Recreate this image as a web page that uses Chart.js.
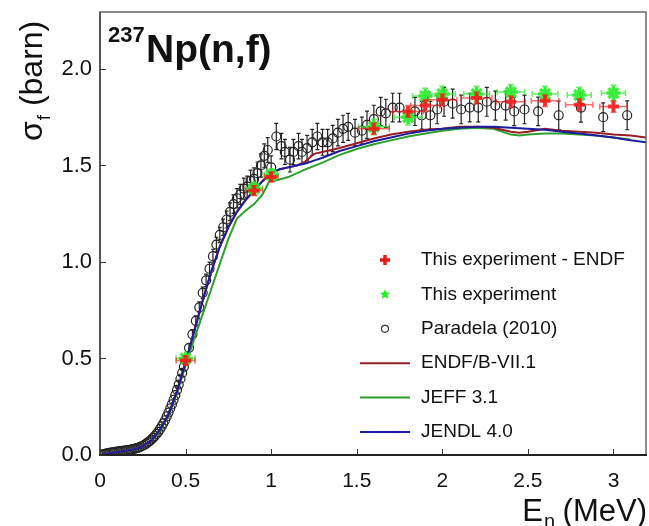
<!DOCTYPE html>
<html>
<head>
<meta charset="utf-8">
<script src="https://cdn.jsdelivr.net/npm/chart.js@4"></script>
<style>
  html, body { margin: 0; padding: 0; background: #fff; }
  #caja { width: 649px; height: 526px; }
</style>
</head>
<body>
<div id="caja"><canvas id="grafica" width="649" height="526"></canvas></div>
<script>
const FUENTE = "'Liberation Sans', Arial, Helvetica, sans-serif";

// Paradela (2010)
const paradelaE = [0.00,0.01,0.02,0.03,0.04,0.05,0.06,0.07,0.08,0.09,0.10,0.11,0.12,0.13,0.14,0.15,0.16,0.17,0.18,0.19,0.20,
  0.21,0.22,0.23,0.24,0.25,0.26,0.27,0.28,0.29,0.30,0.31,0.32,0.33,0.34,0.35,0.36,0.37,0.38,0.39,0.40,
  0.41,0.42,0.43,0.44,0.45,0.46,0.47,0.48,0.49,0.50,
  0.52,0.54,0.56,0.58,0.60,0.62,0.64,0.66,0.68,0.70,0.72,0.74,0.76,0.78,0.80,
  0.82,0.84,0.86,0.88,0.90,0.92,0.94,0.96,0.98,1.00,
  1.03,1.06,1.08,1.11,1.13,1.16,1.18,1.21,1.24,1.27,1.30,1.33,1.36,1.39,1.42,1.45,1.49,1.53,1.56,1.60,1.64,1.67,1.71,1.75,
  1.84,1.88,1.93,1.97,2.01,2.06,2.11,2.16,2.21,2.26,2.31,2.37,2.42,2.48,2.56,2.68,2.81,2.94,3.08];
const paradelaSigma = [0.000,0.002,0.004,0.006,0.008,0.010,0.012,0.013,0.015,0.016,0.018,0.019,0.020,0.021,0.022,0.024,0.025,0.026,0.028,0.030,0.032,
  0.034,0.037,0.040,0.044,0.048,0.053,0.059,0.065,0.072,0.080,0.089,0.098,0.109,0.120,0.134,0.148,0.164,0.180,0.200,0.220,
  0.241,0.262,0.286,0.310,0.337,0.365,0.395,0.425,0.457,0.490,
  0.555,0.625,0.695,0.765,0.840,0.905,0.965,1.030,1.090,1.140,1.180,1.220,1.260,1.300,1.330,
  1.350,1.380,1.390,1.420,1.430,1.460,1.500,1.550,1.580,1.490,
  1.65,1.60,1.57,1.53,1.57,1.60,1.57,1.59,1.62,1.65,1.62,1.62,1.64,1.67,1.69,1.70,1.67,1.68,1.71,1.74,1.78,1.77,1.80,1.80,
  1.78,1.76,1.76,1.79,1.83,1.82,1.79,1.80,1.80,1.83,1.81,1.81,1.78,1.79,1.78,1.76,1.80,1.75,1.76];
const paradelaErr = [0.002,0.002,0.002,0.002,0.002,0.002,0.002,0.002,0.002,0.002,0.002,0.002,0.002,0.002,0.002,0.002,0.002,0.002,0.002,0.002,0.002,
  0.003,0.003,0.003,0.004,0.004,0.004,0.005,0.005,0.005,0.005,
  0.006,0.006,0.007,0.007,0.008,0.008,0.009,0.009,0.010,0.011,
  0.012,0.013,0.014,0.015,0.016,0.017,0.018,0.019,0.020,0.021,
  0.022,0.024,0.026,0.028,0.030,0.032,0.034,0.036,0.038,0.040,0.042,0.044,0.046,0.048,0.050,
  0.052,0.054,0.055,0.056,0.057,0.058,0.060,0.062,0.064,0.060,
  0.068,0.066,0.065,0.064,0.065,0.066,0.065,0.066,0.067,0.068,0.067,0.067,0.068,0.069,0.070,0.070,0.069,0.070,0.071,0.072,0.073,0.073,0.074,0.074,
  0.073,0.072,0.072,0.074,0.075,0.075,0.074,0.074,0.074,0.075,0.075,0.075,0.074,0.074,0.074,0.074,0.075,0.074,0.075];

// This experiment
const expE = [0.5, 0.9, 1.0, 1.6, 1.8, 1.9, 2.0, 2.2, 2.4, 2.6, 2.8, 3.0];
const expSigma = [0.50, 1.38, 1.45, 1.70, 1.75, 1.86, 1.87, 1.87, 1.88, 1.87, 1.865, 1.875];
const expErrE = [0.055, 0.05, 0.04, 0.09, 0.08, 0.075, 0.075, 0.075, 0.08, 0.075, 0.07, 0.07];
const expErrSigma = [0.02, 0.03, 0.03, 0.04, 0.04, 0.04, 0.04, 0.04, 0.04, 0.04, 0.04, 0.04];

// This experiment - ENDF
const difE = [0.5, 0.9, 1.0, 1.6, 1.8, 1.9, 2.0, 2.2, 2.4, 2.6, 2.8, 3.0];
const difSigma = [0.49, 1.37, 1.44, 1.69, 1.78, 1.81, 1.84, 1.85, 1.83, 1.835, 1.815, 1.805];
const difErrE = [0.055, 0.05, 0.04, 0.09, 0.09, 0.085, 0.085, 0.09, 0.085, 0.08, 0.08, 0.08];
const difErrSigma = [0.02, 0.025, 0.025, 0.03, 0.03, 0.03, 0.03, 0.03, 0.03, 0.03, 0.03, 0.03];

// Evaluaciones
const endfE = [0,0.1,0.2,0.25,0.3,0.35,0.4,0.45,0.5,0.55,0.6,0.65,0.7,0.75,0.8,0.85,0.9,0.95,1.0,1.05,1.1,1.15,1.2,1.25,1.3,
  1.4,1.5,1.6,1.7,1.8,1.9,2.0,2.1,2.2,2.3,2.4,2.45,2.5,2.6,2.7,2.8,2.9,3.0,3.1,3.19];
const endfSigma = [0,0.015,0.03,0.045,0.075,0.13,0.21,0.33,0.48,0.64,0.80,0.95,1.08,1.18,1.26,1.32,1.37,1.42,1.46,1.48,1.49,1.50,1.52,1.56,1.57,
  1.59,1.615,1.64,1.66,1.675,1.685,1.69,1.70,1.70,1.695,1.675,1.67,1.675,1.69,1.68,1.675,1.67,1.66,1.655,1.645];

const jeffE = [0,0.1,0.2,0.25,0.3,0.35,0.4,0.45,0.5,0.55,0.6,0.65,0.7,0.75,0.8,0.85,0.9,0.95,0.99,1.0,1.02,1.1,1.2,1.3,
  1.4,1.5,1.6,1.7,1.8,1.9,2.0,2.1,2.2,2.3,2.35,2.4,2.45,2.5,2.6,2.7,2.8,2.9,3.0,3.1];
const jeffSigma = [0,0.015,0.03,0.045,0.075,0.125,0.20,0.32,0.465,0.60,0.73,0.86,0.99,1.12,1.225,1.265,1.30,1.35,1.42,1.46,1.42,1.44,1.48,1.515,
  1.555,1.585,1.61,1.63,1.65,1.665,1.68,1.69,1.695,1.69,1.675,1.66,1.655,1.66,1.665,1.665,1.66,1.655,1.645,1.635];

const jendlE = [0,0.1,0.2,0.25,0.3,0.35,0.4,0.45,0.5,0.55,0.6,0.65,0.7,0.75,0.8,0.85,0.9,0.95,1.0,1.05,1.1,1.2,1.25,1.3,
  1.4,1.5,1.6,1.7,1.8,1.9,2.0,2.1,2.2,2.3,2.4,2.5,2.6,2.7,2.8,2.9,3.0,3.1,3.19];
const jendlSigma = [0,0.015,0.03,0.045,0.075,0.13,0.21,0.33,0.48,0.64,0.80,0.95,1.08,1.18,1.26,1.32,1.37,1.42,1.46,1.48,1.49,1.51,1.525,1.54,
  1.575,1.60,1.625,1.645,1.665,1.68,1.69,1.695,1.70,1.70,1.695,1.69,1.685,1.675,1.665,1.655,1.645,1.63,1.62];

// Ejes
const xTicks = [0, 0.5, 1, 1.5, 2, 2.5, 3];
const xTickLabels = ["0", "0.5", "1", "1.5", "2", "2.5", "3"];
const yTicks = [0, 0.5, 1, 1.5, 2];
const yTickLabels = ["0.0", "0.5", "1.0", "1.5", "2.0"];

const ROJO = "rgba(245,25,25,0.85)";
const VERDE = "rgba(45,235,45,0.9)";
const C_ENDF = "#9a1c24";
const C_JEFF = "#2ca02c";
const C_JENDL = "#1c1c9e";

function puntos(xs, ys) {
  return xs.map((x, i) => ({ x: x, y: ys[i] }));
}

// barras de error dibujadas bajo los marcadores de cada serie
const barrasError = {
  id: "barrasError",
  beforeDatasetDraw(chart, args) {
    const ds = chart.data.datasets[args.index];
    if (!ds.errY && !ds.errX) return;
    const ctx = chart.ctx;
    const sx = chart.scales.x, sy = chart.scales.y;
    ctx.save();
    ctx.strokeStyle = ds.errColor;
    ctx.lineWidth = ds.errWidth;
    const cap = ds.errCap;
    ds.data.forEach((p, i) => {
      const px = sx.getPixelForValue(p.x), py = sy.getPixelForValue(p.y);
      ctx.beginPath();
      if (ds.errY) {
        const t = sy.getPixelForValue(p.y + ds.errY[i]);
        const b = sy.getPixelForValue(p.y - ds.errY[i]);
        ctx.moveTo(px, t); ctx.lineTo(px, b);
        if (b - t > 6) {
          ctx.moveTo(px - cap, t); ctx.lineTo(px + cap, t);
          ctx.moveTo(px - cap, b); ctx.lineTo(px + cap, b);
        }
      }
      if (ds.errX) {
        const l = sx.getPixelForValue(p.x - ds.errX[i]);
        const r = sx.getPixelForValue(p.x + ds.errX[i]);
        ctx.moveTo(l, py); ctx.lineTo(r, py);
        ctx.moveTo(l, py - cap); ctx.lineTo(l, py + cap);
        ctx.moveTo(r, py - cap); ctx.lineTo(r, py + cap);
      }
      ctx.stroke();
    });
    ctx.restore();
  }
};

function estrella(ctx, cx, cy, r) {
  ctx.beginPath();
  for (let k = 0; k < 10; k++) {
    const ang = -Math.PI / 2 + k * Math.PI / 5;
    const rr = k % 2 === 0 ? r : r * 0.45;
    const x = cx + rr * Math.cos(ang), y = cy + rr * Math.sin(ang);
    if (k === 0) ctx.moveTo(x, y); else ctx.lineTo(x, y);
  }
  ctx.closePath();
  ctx.fill();
}

// marco, marcas, títulos y leyenda
const decorado = {
  id: "decorado",
  afterDraw(chart) {
    const ctx = chart.ctx;
    const a = chart.chartArea;
    const sx = chart.scales.x, sy = chart.scales.y;
    ctx.save();

    // marco
    ctx.strokeStyle = "#666";
    ctx.lineWidth = 1.5;
    ctx.strokeRect(a.left, a.top, a.right - a.left, a.bottom - a.top);
    ctx.strokeStyle = "#222";
    ctx.lineWidth = 2;
    ctx.beginPath();
    ctx.moveTo(a.left - 1, a.bottom); ctx.lineTo(a.right + 1, a.bottom);
    ctx.stroke();
    ctx.strokeStyle = "#444";
    ctx.lineWidth = 1.5;
    ctx.beginPath();
    ctx.moveTo(a.left, a.top); ctx.lineTo(a.left, a.bottom);
    ctx.stroke();

    // marcas hacia dentro
    ctx.strokeStyle = "#333";
    ctx.lineWidth = 1;
    ctx.beginPath();
    xTicks.forEach(v => {
      const px = Math.round(sx.getPixelForValue(v)) + 0.5;
      ctx.moveTo(px, a.bottom); ctx.lineTo(px, a.bottom - 6);
    });
    yTicks.forEach(v => {
      const py = Math.round(sy.getPixelForValue(v)) + 0.5;
      ctx.moveTo(a.left, py); ctx.lineTo(a.left + 6, py);
    });
    ctx.stroke();

    ctx.fillStyle = "#111";
    ctx.textBaseline = "alphabetic";
    ctx.textAlign = "left";

    // título
    ctx.font = "bold 22px " + FUENTE;
    ctx.fillText("237", 108, 42);
    ctx.font = "bold 39px " + FUENTE;
    ctx.fillText("Np(n,f)", 146, 62);

    // eje x
    ctx.font = "31px " + FUENTE;
    const wE = ctx.measureText("E").width;
    const wM = ctx.measureText(" (MeV)").width;
    ctx.font = "20px " + FUENTE;
    const wn = ctx.measureText("n").width;
    let x0 = 647 - (wE + wn + wM);
    ctx.font = "31px " + FUENTE;
    ctx.fillText("E", x0, 521);
    ctx.font = "20px " + FUENTE;
    ctx.fillText("n", x0 + wE + 1, 528);
    ctx.font = "31px " + FUENTE;
    ctx.fillText(" (MeV)", x0 + wE + wn, 521);

    // eje y
    ctx.save();
    ctx.translate(42, 141);
    ctx.rotate(-Math.PI / 2);
    ctx.font = "32px " + FUENTE;
    ctx.fillText("σ", 0, 0);
    const ws = ctx.measureText("σ").width;
    ctx.font = "19px " + FUENTE;
    ctx.fillText("f", ws + 1, 8);
    const wf = ctx.measureText("f").width;
    ctx.font = "32px " + FUENTE;
    ctx.fillText(" (barn)", ws + wf + 1, 0);
    ctx.restore();

    // leyenda
    const items = [
      { tipo: "cruz", color: ROJO, texto: "This experiment - ENDF" },
      { tipo: "estrella", color: VERDE, texto: "This experiment" },
      { tipo: "circulo", color: "#333", texto: "Paradela (2010)" },
      { tipo: "linea", color: C_ENDF, texto: "ENDF/B-VII.1" },
      { tipo: "linea", color: C_JEFF, texto: "JEFF 3.1" },
      { tipo: "linea", color: C_JENDL, texto: "JENDL 4.0" }
    ];
    ctx.font = "19px " + FUENTE;
    ctx.textBaseline = "middle";
    items.forEach((it, i) => {
      const y = 260 + i * 34.4;
      const mx = 385;
      if (it.tipo === "cruz") {
        ctx.strokeStyle = "#f01818";
        ctx.lineWidth = 3.5;
        ctx.beginPath();
        ctx.moveTo(mx - 5, y); ctx.lineTo(mx + 5, y);
        ctx.moveTo(mx, y - 5); ctx.lineTo(mx, y + 5);
        ctx.stroke();
      } else if (it.tipo === "estrella") {
        ctx.fillStyle = "#2ee82e";
        estrella(ctx, mx, y, 5.5);
      } else if (it.tipo === "circulo") {
        ctx.strokeStyle = "#333";
        ctx.lineWidth = 1.2;
        ctx.beginPath();
        ctx.arc(mx, y, 3.5, 0, Math.PI * 2);
        ctx.stroke();
      } else {
        ctx.strokeStyle = it.color;
        ctx.lineWidth = 2;
        ctx.beginPath();
        ctx.moveTo(360, y); ctx.lineTo(410, y);
        ctx.stroke();
      }
      ctx.fillStyle = "#111";
      ctx.fillText(it.texto, 421, y);
    });

    ctx.restore();
  }
};

const ctx = document.getElementById("grafica").getContext("2d");
window.grafica = new Chart(ctx, {
  type: "scatter",
  data: {
    datasets: [
      {
        label: "Paradela (2010)",
        data: puntos(paradelaE, paradelaSigma),
        errY: paradelaErr, errColor: "#222", errWidth: 1.2, errCap: 2,
        pointStyle: "circle", pointRadius: 4.5,
        pointBorderColor: "#222", pointBackgroundColor: "rgba(255,255,255,0)",
        pointBorderWidth: 1.2, order: 6
      },
      {
        label: "JEFF 3.1",
        data: puntos(jeffE, jeffSigma),
        showLine: true, borderColor: C_JEFF, borderWidth: 2, pointRadius: 0, order: 5
      },
      {
        label: "ENDF/B-VII.1",
        data: puntos(endfE, endfSigma),
        showLine: true, borderColor: C_ENDF, borderWidth: 2, pointRadius: 0, order: 4
      },
      {
        label: "JENDL 4.0",
        data: puntos(jendlE, jendlSigma),
        showLine: true, borderColor: C_JENDL, borderWidth: 2, pointRadius: 0, order: 3
      },
      {
        label: "This experiment",
        data: puntos(expE, expSigma),
        errX: expErrE, errY: expErrSigma, errColor: "rgba(45,235,45,0.75)", errWidth: 1.5, errCap: 3,
        pointStyle: "star", pointRadius: 7, pointBorderWidth: 3.5,
        pointBorderColor: VERDE, pointBackgroundColor: VERDE, order: 2
      },
      {
        label: "This experiment - ENDF",
        data: puntos(difE, difSigma),
        errX: difErrE, errY: difErrSigma, errColor: "rgba(245,30,30,0.65)", errWidth: 1.5, errCap: 3,
        pointStyle: "cross", pointRadius: 5.5, pointBorderWidth: 4,
        pointBorderColor: ROJO, pointBackgroundColor: ROJO, order: 1
      }
    ]
  },
  options: {
    responsive: false,
    animation: false,
    devicePixelRatio: 1,
    layout: { autoPadding: false, padding: { top: 12, right: 3, left: 0, bottom: 0 } },
    plugins: { legend: { display: false }, tooltip: { enabled: false } },
    scales: {
      x: {
        type: "linear", min: 0, max: 3.19,
        afterBuildTicks: s => { s.ticks = xTicks.map(v => ({ value: v })); },
        afterFit: s => { s.height = 71; s.paddingLeft = 0; s.paddingRight = 0; },
        grid: { display: false, drawTicks: false },
        border: { display: false },
        ticks: {
          autoSkip: false, maxRotation: 0, padding: 14, color: "#111",
          font: { size: 21, family: FUENTE },
          callback: v => xTickLabels[xTicks.indexOf(v)]
        }
      },
      y: {
        type: "linear", min: 0, max: 2.295,
        afterBuildTicks: s => { s.ticks = yTicks.map(v => ({ value: v })); },
        afterFit: s => { s.width = 100; s.paddingTop = 0; s.paddingBottom = 0; },
        grid: { display: false, drawTicks: false },
        border: { display: false },
        ticks: {
          padding: 8, color: "#111",
          font: { size: 22, family: FUENTE },
          callback: v => yTickLabels[yTicks.indexOf(v)]
        }
      }
    }
  },
  plugins: [barrasError, decorado]
});
</script>
</body>
</html>
